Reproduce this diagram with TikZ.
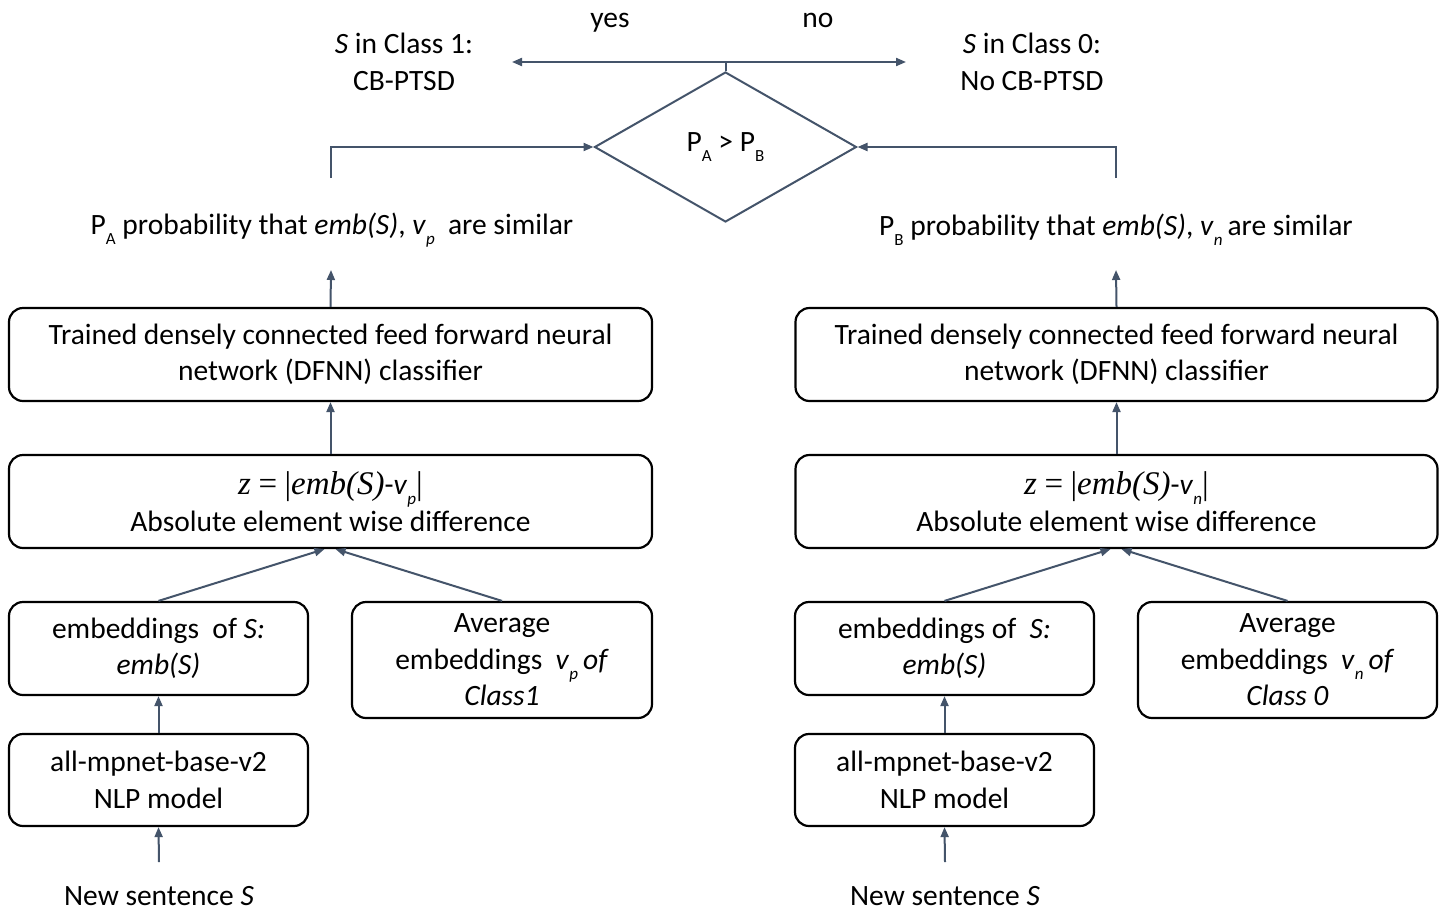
\documentclass[tikz,border=0pt]{standalone}
\usepackage{fontspec}
\setmainfont{Carlito}
\newfontfamily\tnr{Liberation Serif}
\usetikzlibrary{shapes.geometric,arrows.meta,calc}
\definecolor{conn}{HTML}{44546A}
\newcommand{\lsub}[1]{\raisebox{-0.7ex}{\fontsize{17}{17}\selectfont #1}}
\newcommand{\formula}[1]{{\fontsize{33}{36.5}\selectfont{\tnr\itshape z} {\tnr =} {\tnr|}{\tnr\itshape emb(S)}{\fontsize{29.5}{36.5}\selectfont -\textit{v}\lsub{\textit{#1}}}{\tnr|}}}
\begin{document}
\begin{tikzpicture}[x=1pt,y=-1pt,
  every node/.style={font=\fontsize{29.5}{36.5}\selectfont, inner sep=0pt, align=center},
  box/.style={draw=black, line width=2.2pt, rounded corners=14pt},
  conline/.style={draw=conn, line width=2pt},
  arr/.style={conline, -{Triangle[length=10pt,width=8pt]}},
  dia/.style={diamond, draw=conn, line width=2pt, minimum width=262pt, minimum height=150pt}
]
\useasboundingbox (0,0) rectangle (1450,913);
\fill[white] (0,0) rectangle (1450,913);

% ---------- left column ----------
\node[box, minimum width=643pt, minimum height=93pt] (dfnnL) at (330.5,354.5)
  {Trained densely connected feed forward neural\\network (DFNN) classifier};
\node[box, minimum width=643pt, minimum height=93pt] (absL) at (330.5,501.5)
  {\formula{p}\\Absolute element wise difference};
\node[box, minimum width=299pt, minimum height=93pt] (embL) at (158.5,648.5)
  {embeddings\ \ of \textit{S:}\\\textit{emb(S)}};
\node[box, minimum width=300pt, minimum height=116pt] (avgL) at (502,660)
  {Average\\embeddings\ \ \textit{v}\lsub{\textit{p}}\,\textit{of}\\\textit{Class1}};
\node[box, minimum width=299pt, minimum height=92pt] (nlpL) at (158.5,780)
  {all-mpnet-base-v2\\NLP model};
\node (newL) at (159,896) {New sentence \textit{S}};
\coordinate (inL) at (159,862);
\node (pA) at (332,230) {P\lsub{A} probability that \textit{emb(S)}, \textit{v}\lsub{\textit{p}}\ \ are similar};
\coordinate (pAin) at (331,270);
\coordinate (pAout) at (331,178);
\coordinate (pAcorner) at (331,147);

% ---------- right column ----------
\node[box, minimum width=642pt, minimum height=93pt] (dfnnR) at (1116.5,354.5)
  {Trained densely connected feed forward neural\\network (DFNN) classifier};
\node[box, minimum width=642pt, minimum height=93pt] (absR) at (1116.5,501.5)
  {\formula{n}\\Absolute element wise difference};
\node[box, minimum width=299pt, minimum height=93pt] (embR) at (944.5,648.5)
  {embeddings of\ \ \textit{S:}\\\textit{emb(S)}};
\node[box, minimum width=299pt, minimum height=116pt] (avgR) at (1287.5,660)
  {Average\\embeddings\ \ \textit{v}\lsub{\textit{n}}\,\textit{of}\\\textit{Class 0}};
\node[box, minimum width=299pt, minimum height=92pt] (nlpR) at (944.5,780)
  {all-mpnet-base-v2\\NLP model};
\node (newR) at (945,896) {New sentence \textit{S}};
\coordinate (inR) at (945,862);
\node (pB) at (1116,230) {P\lsub{B} probability that \textit{emb(S)}, \textit{v}\lsub{\textit{n}}\,are similar};
\coordinate (pBin) at (1116,270);
\coordinate (pBout) at (1116,178);
\coordinate (pBcorner) at (1116,147);

% ---------- decision ----------
\node[dia] (d) at (725.5,147) {P\lsub{A} > P\lsub{B}};
\coordinate (split) at (725.5,62);
\coordinate (yesEnd) at (512,62);
\coordinate (noEnd) at (906,62);
\node[anchor=base] (yes) at (610,27) {yes};
\node[anchor=base] (no) at (818,27) {no};
\node (c1) at (404,62) {\textit{S} in Class 1:\\CB-PTSD};
\node (c0) at (1032,62) {\textit{S} in Class 0:\\No CB-PTSD};

% ---------- connectors ----------
\draw[arr] (inL) -- (nlpL.south);
\draw[arr] (nlpL.north) -- (embL.south);
\draw[arr] (embL.north) -- ($(absL.south)+(-6,0)$);
\draw[arr] (avgL.north) -- ($(absL.south)+(5,0)$);
\draw[arr] (absL.north) -- (dfnnL.south);
\draw[arr] (dfnnL.north) -- (pAin);
\draw[arr] (pAout) -- (pAcorner) -- (d.west);

\draw[arr] (inR) -- (nlpR.south);
\draw[arr] (nlpR.north) -- (embR.south);
\draw[arr] (embR.north) -- ($(absR.south)+(-6,0)$);
\draw[arr] (avgR.north) -- ($(absR.south)+(5,0)$);
\draw[arr] (absR.north) -- (dfnnR.south);
\draw[arr] (dfnnR.north) -- (pBin);
\draw[arr] (pBout) -- (pBcorner) -- (d.east);

\draw[conline] (d.north) -- (split);
\draw[arr] (split) -- (yesEnd);
\draw[arr] (split) -- (noEnd);
\end{tikzpicture}
\end{document}
